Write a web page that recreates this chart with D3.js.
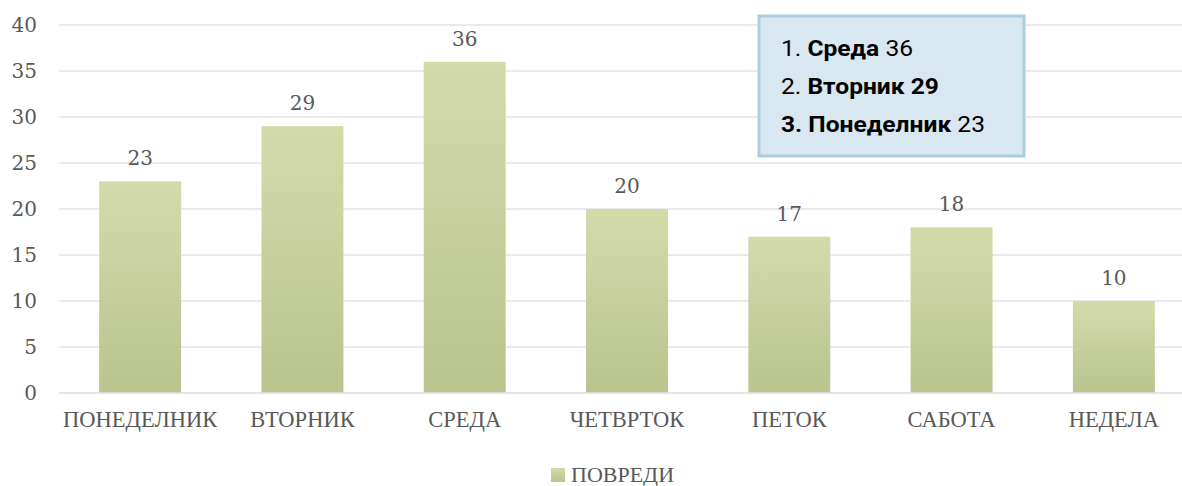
<!DOCTYPE html>
<html>
<head>
<meta charset="utf-8">
<script src="https://cdn.jsdelivr.net/npm/d3@7"></script>
<style>
  body { margin: 0; background: #fff; }
</style>
</head>
<body>
<div id="chart"></div>
<script>
// données du graphique
const days = ["ПОНЕДЕЛНИК", "ВТОРНИК", "СРЕДА", "ЧЕТВРТОК", "ПЕТОК", "САБОТА", "НЕДЕЛА"];
const injuries = [23, 29, 36, 20, 17, 18, 10];
const yTicks = [0, 5, 10, 15, 20, 25, 30, 35, 40];
const seriesName = "ПОВРЕДИ";
// lignes de l'encadré : [texte, gras?]
const top3 = [
  [["1. ", false], ["Среда", true], [" 36", false]],
  [["2. ", false], ["Вторник 29", true]],
  [["3. Понеделник", true], [" 23", false]]
];

const W = 1182, H = 486;
const margin = {top: 25, right: 0, bottom: 93, left: 59};
const width = W - margin.left - margin.right;
const height = H - margin.top - margin.bottom;

const svg = d3.select("#chart").append("svg")
  .attr("width", W).attr("height", H);

// dégradé des barres
const defs = svg.append("defs");
const grad = defs.append("linearGradient").attr("id", "barGrad")
  .attr("x1", 0).attr("y1", 0).attr("x2", 0).attr("y2", 1);
grad.append("stop").attr("offset", "0%").attr("stop-color", "#d3dbab");
grad.append("stop").attr("offset", "100%").attr("stop-color", "#b9c48e");

const g = svg.append("g").attr("transform", `translate(${margin.left},${margin.top})`);

// la zone de tracé dépasse un peu le bord droit de l'image
const x = d3.scaleBand().domain(days).range([0, 1136]).paddingInner(0.495).paddingOuter(0.2475);
const y = d3.scaleLinear().domain([0, 40]).range([height, 0]);

// grille
g.selectAll(".grid").data(yTicks).enter().append("line")
  .attr("x1", 0).attr("x2", width)
  .attr("y1", d => y(d)).attr("y2", d => y(d))
  .attr("stroke", "#e3e3e3").attr("stroke-width", 1.5);

// axe Y
const axeY = d3.axisLeft(y).tickValues(yTicks).tickSize(0).tickPadding(22);
const gy = g.append("g").call(axeY);
gy.select(".domain").remove();
gy.selectAll("text")
  .attr("font-family", "DejaVu Serif").attr("font-size", "20px").attr("fill", "#595959");

// barres
g.selectAll(".bar").data(injuries).enter().append("rect")
  .attr("x", (d, i) => x(days[i]))
  .attr("y", d => y(d))
  .attr("width", x.bandwidth())
  .attr("height", d => height - y(d))
  .attr("fill", "url(#barGrad)");

// étiquettes de valeurs
g.selectAll(".lbl").data(injuries).enter().append("text")
  .attr("x", (d, i) => x(days[i]) + x.bandwidth() / 2)
  .attr("y", d => y(d) - 16)
  .attr("text-anchor", "middle")
  .attr("font-family", "DejaVu Serif").attr("font-size", "20px").attr("fill", "#595959")
  .text(d => d);

// axe X
const axeX = d3.axisBottom(x).tickSize(0).tickPadding(18);
const gx = g.append("g").attr("transform", `translate(0,${height})`).call(axeX);
gx.select(".domain").remove();
g.append("line").attr("x1", 0).attr("x2", width).attr("y1", height).attr("y2", height)
  .attr("stroke", "#e3e3e3").attr("stroke-width", 1.5);
gx.selectAll("text")
  .attr("font-family", "Liberation Serif").attr("font-size", "22.5px").attr("fill", "#595959");

// légende
const leg = svg.append("g").attr("transform", "translate(551,468)");
leg.append("rect").attr("width", 14).attr("height", 14).attr("fill", "url(#barGrad)");
leg.append("text").attr("x", 20).attr("y", 14)
  .attr("font-family", "Liberation Serif").attr("font-size", "22px").attr("fill", "#595959")
  .text(seriesName);

// encadré top 3
svg.append("rect")
  .attr("x", 759).attr("y", 16).attr("width", 265).attr("height", 140)
  .attr("fill", "#d8e7f0").attr("stroke", "#abcde2").attr("stroke-width", 3);

const box = svg.append("g").attr("transform", "translate(781,0)");
const lines = box.selectAll(".ln").data(top3).enter().append("text")
  .attr("x", 0).attr("y", (d, i) => 56 + i * 38)
  .attr("font-family", "Roboto").attr("font-size", "22px").attr("fill", "#000");
lines.selectAll("tspan").data(d => d).enter().append("tspan")
  .attr("font-weight", d => d[1] ? "bold" : "normal")
  .style("white-space", "pre")
  .text(d => d[0]);
// compression horizontale pour imiter la police étroite
const w3 = lines.nodes()[2].getComputedTextLength();
box.attr("transform", `translate(781,0) scale(${204 / w3},1)`);
</script>
</body>
</html>
